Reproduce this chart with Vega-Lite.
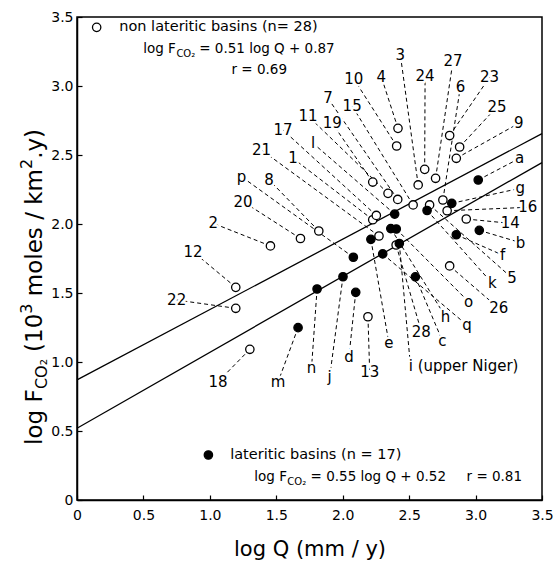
{
  "$schema": "https://vega.github.io/schema/vega-lite/v6.json",
  "width": 465,
  "height": 483,
  "autosize": {"type": "none"},
  "padding": {"left": 77, "top": 17, "right": 11, "bottom": 62},
  "config": {
    "font": "DejaVu Sans",
    "view": {"stroke": "black", "strokeWidth": 1.5},
    "axis": {
      "grid": false,
      "labelFontSize": 14,
      "labelColor": "black",
      "labelFlush": false,
      "labelOverlap": false,
      "domainColor": "black",
      "domainWidth": 1.5,
      "tickColor": "black",
      "tickWidth": 1.2,
      "tickSize": -5,
      "labelPadding": 9,
      "titleFontSize": 21,
      "titleFontWeight": "normal",
      "titleColor": "black"
    }
  },
  "datasets": {
    "fits": [
      {"fit": "non lateritic", "logQ": 0, "logF": 0.87},
      {"fit": "non lateritic", "logQ": 3.5, "logF": 2.655},
      {"fit": "lateritic", "logQ": 0, "logF": 0.52},
      {"fit": "lateritic", "logQ": 3.5, "logF": 2.445}
    ],
    "basins": [
      {"basin": "1", "type": "non lateritic", "logQ": 2.226, "logF": 2.031, "lx": 1.626, "ly": 2.476},
      {"basin": "2", "type": "non lateritic", "logQ": 1.456, "logF": 1.841, "lx": 1.025, "ly": 2.005},
      {"basin": "3", "type": "non lateritic", "logQ": 2.568, "logF": 2.283, "lx": 2.434, "ly": 3.225},
      {"basin": "4", "type": "non lateritic", "logQ": 2.416, "logF": 2.693, "lx": 2.291, "ly": 3.065},
      {"basin": "5", "type": "non lateritic", "logQ": 2.654, "logF": 2.138, "lx": 3.274, "ly": 1.609},
      {"basin": "6", "type": "non lateritic", "logQ": 2.754, "logF": 2.174, "lx": 2.886, "ly": 2.995},
      {"basin": "7", "type": "non lateritic", "logQ": 2.414, "logF": 2.178, "lx": 1.889, "ly": 2.911},
      {"basin": "8", "type": "non lateritic", "logQ": 1.820, "logF": 1.949, "lx": 1.446, "ly": 2.319},
      {"basin": "9", "type": "non lateritic", "logQ": 2.855, "logF": 2.476, "lx": 3.326, "ly": 2.730},
      {"basin": "10", "type": "non lateritic", "logQ": 2.406, "logF": 2.565, "lx": 2.084, "ly": 3.051},
      {"basin": "11", "type": "non lateritic", "logQ": 2.341, "logF": 2.222, "lx": 1.739, "ly": 2.783},
      {"basin": "12", "type": "non lateritic", "logQ": 1.195, "logF": 1.541, "lx": 0.874, "ly": 1.799},
      {"basin": "13", "type": "non lateritic", "logQ": 2.190, "logF": 1.328, "lx": 2.203, "ly": 0.930},
      {"basin": "14", "type": "non lateritic", "logQ": 2.930, "logF": 2.036, "lx": 3.261, "ly": 2.005},
      {"basin": "15", "type": "non lateritic", "logQ": 2.530, "logF": 2.138, "lx": 2.071, "ly": 2.855},
      {"basin": "16", "type": "non lateritic", "logQ": 2.786, "logF": 2.096, "lx": 3.393, "ly": 2.121},
      {"basin": "17", "type": "non lateritic", "logQ": 2.253, "logF": 2.062, "lx": 1.551, "ly": 2.681},
      {"basin": "18", "type": "non lateritic", "logQ": 1.301, "logF": 1.092, "lx": 1.062, "ly": 0.857},
      {"basin": "19", "type": "non lateritic", "logQ": 2.226, "logF": 2.304, "lx": 1.921, "ly": 2.730},
      {"basin": "20", "type": "non lateritic", "logQ": 1.682, "logF": 1.895, "lx": 1.250, "ly": 2.162},
      {"basin": "21", "type": "non lateritic", "logQ": 2.273, "logF": 1.913, "lx": 1.389, "ly": 2.536},
      {"basin": "22", "type": "non lateritic", "logQ": 1.195, "logF": 1.389, "lx": 0.750, "ly": 1.449},
      {"basin": "23", "type": "non lateritic", "logQ": 2.805, "logF": 2.641, "lx": 3.105, "ly": 3.063},
      {"basin": "24", "type": "non lateritic", "logQ": 2.617, "logF": 2.396, "lx": 2.620, "ly": 3.072},
      {"basin": "25", "type": "non lateritic", "logQ": 2.880, "logF": 2.558, "lx": 3.162, "ly": 2.850},
      {"basin": "26", "type": "non lateritic", "logQ": 2.805, "logF": 1.696, "lx": 3.175, "ly": 1.389},
      {"basin": "27", "type": "non lateritic", "logQ": 2.699, "logF": 2.331, "lx": 2.830, "ly": 3.181},
      {"basin": "28", "type": "non lateritic", "logQ": 2.402, "logF": 1.848, "lx": 2.592, "ly": 1.220},
      {"basin": "a", "type": "lateritic", "logQ": 3.020, "logF": 2.319, "lx": 3.331, "ly": 2.476},
      {"basin": "b", "type": "lateritic", "logQ": 3.028, "logF": 1.954, "lx": 3.338, "ly": 1.865},
      {"basin": "c", "type": "lateritic", "logQ": 2.547, "logF": 1.617, "lx": 2.750, "ly": 1.154},
      {"basin": "d", "type": "lateritic", "logQ": 2.098, "logF": 1.505, "lx": 2.047, "ly": 1.038},
      {"basin": "e", "type": "lateritic", "logQ": 2.212, "logF": 1.889, "lx": 2.348, "ly": 1.136},
      {"basin": "f", "type": "lateritic", "logQ": 2.855, "logF": 1.922, "lx": 3.203, "ly": 1.775},
      {"basin": "g", "type": "lateritic", "logQ": 2.821, "logF": 2.150, "lx": 3.336, "ly": 2.259},
      {"basin": "h", "type": "lateritic", "logQ": 2.362, "logF": 1.967, "lx": 2.774, "ly": 1.328},
      {"basin": "i (upper Niger)", "type": "lateritic", "logQ": 2.426, "logF": 1.859, "lx": 2.504, "ly": 1.036},
      {"basin": "j", "type": "lateritic", "logQ": 2.002, "logF": 1.618, "lx": 1.902, "ly": 0.893},
      {"basin": "k", "type": "lateritic", "logQ": 2.635, "logF": 2.098, "lx": 3.126, "ly": 1.570},
      {"basin": "l", "type": "lateritic", "logQ": 2.391, "logF": 2.072, "lx": 1.777, "ly": 2.585},
      {"basin": "m", "type": "lateritic", "logQ": 1.664, "logF": 1.249, "lx": 1.514, "ly": 0.857},
      {"basin": "n", "type": "lateritic", "logQ": 1.807, "logF": 1.529, "lx": 1.765, "ly": 0.954},
      {"basin": "o", "type": "lateritic", "logQ": 2.403, "logF": 1.964, "lx": 2.947, "ly": 1.437},
      {"basin": "p", "type": "lateritic", "logQ": 2.080, "logF": 1.759, "lx": 1.238, "ly": 2.343},
      {"basin": "q", "type": "lateritic", "logQ": 2.301, "logF": 1.783, "lx": 2.935, "ly": 1.268}
    ],
    "labels": [
      {"basin": "1", "logQ": 1.626, "logF": 2.476},
      {"basin": "2", "logQ": 1.025, "logF": 2.005},
      {"basin": "3", "logQ": 2.434, "logF": 3.225},
      {"basin": "4", "logQ": 2.291, "logF": 3.065},
      {"basin": "5", "logQ": 3.274, "logF": 1.609},
      {"basin": "6", "logQ": 2.886, "logF": 2.995},
      {"basin": "7", "logQ": 1.889, "logF": 2.911},
      {"basin": "8", "logQ": 1.446, "logF": 2.319},
      {"basin": "9", "logQ": 3.326, "logF": 2.730},
      {"basin": "10", "logQ": 2.084, "logF": 3.051},
      {"basin": "11", "logQ": 1.739, "logF": 2.783},
      {"basin": "12", "logQ": 0.874, "logF": 1.799},
      {"basin": "13", "logQ": 2.203, "logF": 0.930},
      {"basin": "14", "logQ": 3.261, "logF": 2.005},
      {"basin": "15", "logQ": 2.071, "logF": 2.855},
      {"basin": "16", "logQ": 3.393, "logF": 2.121},
      {"basin": "17", "logQ": 1.551, "logF": 2.681},
      {"basin": "18", "logQ": 1.062, "logF": 0.857},
      {"basin": "19", "logQ": 1.921, "logF": 2.730},
      {"basin": "20", "logQ": 1.250, "logF": 2.162},
      {"basin": "21", "logQ": 1.389, "logF": 2.536},
      {"basin": "22", "logQ": 0.750, "logF": 1.449},
      {"basin": "23", "logQ": 3.105, "logF": 3.063},
      {"basin": "24", "logQ": 2.620, "logF": 3.072},
      {"basin": "25", "logQ": 3.162, "logF": 2.850},
      {"basin": "26", "logQ": 3.175, "logF": 1.389},
      {"basin": "27", "logQ": 2.830, "logF": 3.181},
      {"basin": "28", "logQ": 2.592, "logF": 1.220},
      {"basin": "a", "logQ": 3.331, "logF": 2.476},
      {"basin": "b", "logQ": 3.338, "logF": 1.865},
      {"basin": "c", "logQ": 2.750, "logF": 1.154},
      {"basin": "d", "logQ": 2.047, "logF": 1.038},
      {"basin": "e", "logQ": 2.348, "logF": 1.136},
      {"basin": "f", "logQ": 3.203, "logF": 1.775},
      {"basin": "g", "logQ": 3.336, "logF": 2.259},
      {"basin": "h", "logQ": 2.774, "logF": 1.328},
      {"basin": "i (upper Niger)", "logQ": 2.910, "logF": 0.971},
      {"basin": "j", "logQ": 1.902, "logF": 0.893},
      {"basin": "k", "logQ": 3.126, "logF": 1.570},
      {"basin": "l", "logQ": 1.777, "logF": 2.585},
      {"basin": "m", "logQ": 1.514, "logF": 0.857},
      {"basin": "n", "logQ": 1.765, "logF": 0.954},
      {"basin": "o", "logQ": 2.947, "logF": 1.437},
      {"basin": "p", "logQ": 1.238, "logF": 2.343},
      {"basin": "q", "logQ": 2.935, "logF": 1.268}
    ],
    "keys": [
      {"type": "non lateritic", "logQ": 0.148, "logF": 3.425},
      {"type": "lateritic", "logQ": 0.989, "logF": 0.326}
    ],
    "notes": [
      {"text": "non lateritic basins (n= 28)", "logQ": 0.318, "logF": 3.428},
      {"text": "lateritic basins (n = 17)", "logQ": 1.153, "logF": 0.326}
    ],
    "eqs": [
      {"text": "log F", "logQ": 0.498, "logF": 3.268},
      {"text": "= 0.51 log Q + 0.87", "logQ": 0.92, "logF": 3.268},
      {"text": "r = 0.69", "logQ": 1.163, "logF": 3.116},
      {"text": "log F", "logQ": 1.335, "logF": 0.167},
      {"text": "= 0.55 log Q + 0.52", "logQ": 1.758, "logF": 0.167},
      {"text": "r = 0.81", "logQ": 2.932, "logF": 0.167}
    ],
    "subs": [
      {"text": "CO₂", "logQ": 0.748, "logF": 3.232},
      {"text": "CO₂", "logQ": 1.583, "logF": 0.131}
    ],
    "ytitle": [
      {"text": "log F", "logQ": -0.316, "logF": 0.399},
      {"text": "(10", "logQ": -0.316, "logF": 1.073},
      {"text": "moles / km", "logQ": -0.316, "logF": 1.477},
      {"text": ".y)", "logQ": -0.316, "logF": 2.472}
    ],
    "ytitlesmall": [
      {"text": "CO₂", "logQ": -0.263, "logF": 0.804},
      {"text": "3", "logQ": -0.376, "logF": 1.350},
      {"text": "2", "logQ": -0.376, "logF": 2.398}
    ]
  },
  "encoding": {
    "x": {
      "field": "logQ", "type": "quantitative",
      "scale": {"domain": [0, 3.5], "nice": false, "zero": false},
      "axis": {
        "title": "log Q (mm / y)",
        "values": [0, 0.5, 1, 1.5, 2, 2.5, 3, 3.5],
        "labelExpr": "datum.value === 0 ? '0' : format(datum.value, '.1f')",
        "labelPadding": 13,
        "titlePadding": 16
      }
    },
    "y": {
      "field": "logF", "type": "quantitative",
      "scale": {"domain": [0, 3.5], "nice": false, "zero": false},
      "axis": {
        "title": null,
        "values": [0, 0.5, 1, 1.5, 2, 2.5, 3, 3.5],
        "labelExpr": "datum.value === 0 ? '0' : format(datum.value, '.1f')"
      }
    }
  },
  "layer": [
    {
      "data": {"name": "fits"},
      "mark": {"type": "line", "color": "black", "strokeWidth": 1.3},
      "encoding": {"detail": {"field": "fit", "type": "nominal"}}
    },
    {
      "data": {"name": "basins"},
      "mark": {"type": "rule", "color": "black", "strokeWidth": 1, "strokeDash": [4, 3]},
      "encoding": {"x2": {"field": "lx"}, "y2": {"field": "ly"}}
    },
    {
      "data": {"name": "labels"},
      "mark": {"type": "text", "fontSize": 15, "align": "center", "baseline": "middle", "fill": "white", "stroke": "white", "strokeWidth": 5, "strokeJoin": "round"},
      "encoding": {"text": {"field": "basin"}}
    },
    {
      "data": {"name": "labels"},
      "mark": {"type": "text", "fontSize": 15, "align": "center", "baseline": "middle", "color": "black"},
      "encoding": {"text": {"field": "basin"}}
    },
    {
      "data": {"name": "basins"},
      "mark": {"type": "point", "shape": "circle", "filled": true, "size": 70, "stroke": "black", "strokeWidth": 1.3, "opacity": 1},
      "encoding": {
        "fill": {"field": "type", "type": "nominal", "scale": {"domain": ["non lateritic", "lateritic"], "range": ["white", "black"]}, "legend": null}
      }
    },
    {
      "data": {"name": "keys"},
      "mark": {"type": "point", "shape": "circle", "filled": true, "size": 70, "stroke": "black", "strokeWidth": 1.3, "opacity": 1},
      "encoding": {"fill": {"field": "type", "type": "nominal", "legend": null}}
    },
    {
      "data": {"name": "notes"},
      "mark": {"type": "text", "fontSize": 14.5, "align": "left", "baseline": "middle", "color": "black"},
      "encoding": {"text": {"field": "text"}}
    },
    {
      "data": {"name": "eqs"},
      "mark": {"type": "text", "fontSize": 13.5, "align": "left", "baseline": "middle", "color": "black"},
      "encoding": {"text": {"field": "text"}}
    },
    {
      "data": {"name": "subs"},
      "mark": {"type": "text", "fontSize": 10, "align": "left", "baseline": "middle", "color": "black"},
      "encoding": {"text": {"field": "text"}}
    },
    {
      "data": {"name": "ytitle"},
      "mark": {"type": "text", "fontSize": 23, "angle": 270, "align": "left", "baseline": "middle", "color": "black"},
      "encoding": {"text": {"field": "text"}}
    },
    {
      "data": {"name": "ytitlesmall"},
      "mark": {"type": "text", "fontSize": 16, "angle": 270, "align": "left", "baseline": "middle", "color": "black"},
      "encoding": {"text": {"field": "text"}}
    }
  ]
}
